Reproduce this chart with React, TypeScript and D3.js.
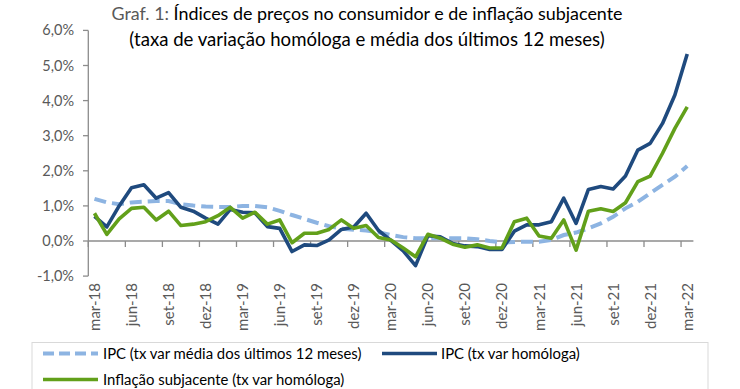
import React from "react";
import * as d3 from "d3";

const months = [
  "mar-18","abr-18","mai-18","jun-18","jul-18","ago-18","set-18","out-18","nov-18","dez-18",
  "jan-19","fev-19","mar-19","abr-19","mai-19","jun-19","jul-19","ago-19","set-19","out-19","nov-19","dez-19",
  "jan-20","fev-20","mar-20","abr-20","mai-20","jun-20","jul-20","ago-20","set-20","out-20","nov-20","dez-20",
  "jan-21","fev-21","mar-21","abr-21","mai-21","jun-21","jul-21","ago-21","set-21","out-21","nov-21","dez-21",
  "jan-22","fev-22","mar-22",
];

const ipcAvg12 = [
  1.2, 1.1, 1.05, 1.1, 1.12, 1.14, 1.14, 1.05, 1.01, 0.98,
  0.97, 0.97, 1.0, 1.0, 0.96, 0.86, 0.74, 0.63, 0.52, 0.42, 0.35, 0.32,
  0.3, 0.25, 0.17, 0.11, 0.08, 0.08, 0.08, 0.08, 0.08, 0.05, 0.0, -0.04,
  -0.03, -0.02, -0.02, 0.03, 0.17, 0.24, 0.36, 0.5, 0.69, 0.93, 1.12, 1.36,
  1.6, 1.83, 2.14,
];

const ipcYoY = [
  0.7, 0.4, 1.0, 1.52, 1.6, 1.22, 1.38, 0.96, 0.85, 0.65,
  0.48, 0.9, 0.82, 0.8, 0.41, 0.36, -0.3, -0.11, -0.13, 0.03, 0.33, 0.4,
  0.79, 0.3, 0.02, -0.28, -0.7, 0.15, 0.12, -0.07, -0.14, -0.16, -0.24, -0.24,
  0.28, 0.46, 0.46, 0.55, 1.22, 0.5, 1.47, 1.55, 1.48, 1.85, 2.59, 2.78,
  3.35, 4.16, 5.33,
];

const coreYoY = [
  0.79, 0.19, 0.63, 0.93, 0.96, 0.6, 0.85, 0.44, 0.48, 0.55,
  0.72, 0.96, 0.65, 0.82, 0.48, 0.6, -0.05, 0.22, 0.22, 0.33, 0.6, 0.36,
  0.44, 0.1, 0.03, -0.2, -0.45, 0.19, 0.08, -0.09, -0.18, -0.11, -0.2, -0.2,
  0.55, 0.65, 0.14, 0.08, 0.6, -0.26, 0.85, 0.92, 0.84, 1.09, 1.69, 1.85,
  2.5, 3.21, 3.82,
];

const yTicks = [-1, 0, 1, 2, 3, 4, 5, 6];

const FONT = "Lato, 'Open Sans', sans-serif";
const C_BLUE = "#1F4A7E";
const C_GREEN = "#62A01A";
const C_DASH = "#8DB4E2";
const C_AXIS = "#8C8C8C";
const C_TEXT = "#595959";

export default function App() {
  const W = 740, H = 389;
  const x = d3.scaleBand<string>().domain(months).range([88.3, 693.4]).paddingInner(0).paddingOuter(0);
  const y = d3.scaleLinear().domain([-1, 6]).range([276.1, 30.4]);
  const cx = (i: number) => (x(months[i]) as number) + x.bandwidth() / 2;

  const line = d3
    .line<number>()
    .x((_, i) => cx(i))
    .y((d) => y(d));

  const fmt = (v: number) => v.toFixed(1).replace(".", ",") + "%";
  const tickIdx = months.map((_, i) => i).filter((i) => i % 3 === 0);
  const boundaries = d3.range(0, months.length + 1, 3).filter((i) => i <= months.length - 1).map((i) => x(months[i]) as number);

  return (
    <svg width={W} height={H} style={{ position: "absolute", left: 0, top: 0, background: "#fff" }} fontFamily={FONT}>
      <rect x={0} y={0} width={W} height={H} fill="#fff" />
      {/* Title */}
      <text x={367} y={20} textAnchor="middle" fontSize={17.9} fill="#000">
        <tspan fill={C_TEXT}>Graf. 1: </tspan>
        <tspan>Índices de preços no consumidor e de inflação subjacente</tspan>
      </text>
      <text x={367} y={46} textAnchor="middle" fontSize={18.6} fill="#000">
        (taxa de variação homóloga e média dos últimos 12 meses)
      </text>

      {/* Y axis */}
      <line x1={88.3} x2={88.3} y1={y(6)} y2={y(-1)} stroke={C_AXIS} strokeWidth={1.3} />
      {yTicks.map((t) => (
        <g key={t}>
          <line x1={83} x2={88.3} y1={y(t)} y2={y(t)} stroke={C_AXIS} strokeWidth={1.3} />
          <text x={74} y={y(t)} dy="0.35em" textAnchor="end" fontSize={14.5} fill={C_TEXT}>
            {fmt(t)}
          </text>
        </g>
      ))}

      {/* X axis at 0 */}
      <line x1={88.3} x2={693.4} y1={y(0)} y2={y(0)} stroke={C_AXIS} strokeWidth={1.5} />
      {boundaries.map((b, i) => (
        <line key={i} x1={b} x2={b} y1={y(0)} y2={y(0) + 6} stroke={C_AXIS} strokeWidth={1.3} />
      ))}
      {tickIdx.map((i) => (
        <text
          key={i}
          transform={`translate(${cx(i) + 5.5},283) rotate(-90)`}
          textAnchor="end"
          fontSize={15}
          fill={C_TEXT}
        >
          {months[i]}
        </text>
      ))}

      {/* Series */}
      <path d={line(ipcAvg12) || ""} fill="none" stroke={C_DASH} strokeWidth={4} strokeDasharray="12,6" />
      <path d={line(ipcYoY) || ""} fill="none" stroke={C_BLUE} strokeWidth={3.6} strokeLinejoin="round" />
      <path d={line(coreYoY) || ""} fill="none" stroke={C_GREEN} strokeWidth={3.6} strokeLinejoin="round" />

      {/* Legend */}
      <rect x={32} y={342.5} width={676} height={60} fill="none" stroke="#D9D9D9" strokeWidth={1} />
      <line x1={43} x2={98} y1={353.5} y2={353.5} stroke={C_DASH} strokeWidth={4} strokeDasharray="11,5" />
      <text x={103} y={353.5} dy="0.35em" fontSize={14.9} fill="#000">
        IPC (tx var média dos últimos 12 meses)
      </text>
      <line x1={382} x2={437} y1={353.5} y2={353.5} stroke={C_BLUE} strokeWidth={3.6} />
      <text x={441} y={353.5} dy="0.35em" fontSize={14.9} fill="#000">
        IPC (tx var homóloga)
      </text>
      <line x1={43} x2={98} y1={379.5} y2={379.5} stroke={C_GREEN} strokeWidth={3.6} />
      <text x={103} y={379.5} dy="0.35em" fontSize={14.9} fill="#000">
        Inflação subjacente (tx var homóloga)
      </text>
    </svg>
  );
}
